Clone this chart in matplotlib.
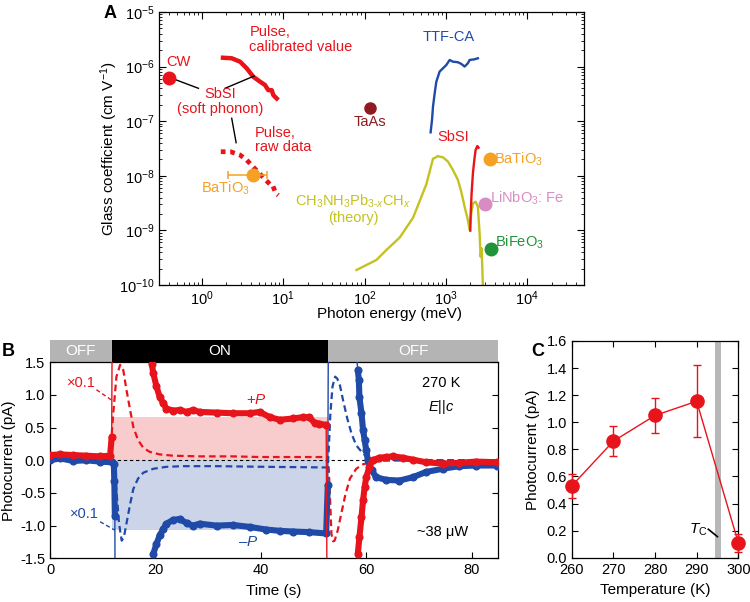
import numpy as np
import matplotlib
matplotlib.use('Agg')
import matplotlib.pyplot as plt
import matplotlib.transforms as mtransforms
from matplotlib.patches import Rectangle
from matplotlib.ticker import LogLocator, NullFormatter, MultipleLocator, FormatStrFormatter

plt.rcParams['font.family'] = ['Liberation Sans', 'DejaVu Sans']
plt.rcParams['mathtext.fontset'] = 'custom'
plt.rcParams['mathtext.rm'] = 'Liberation Sans'
plt.rcParams['mathtext.it'] = 'Liberation Sans:italic'
plt.rcParams['mathtext.bf'] = 'Liberation Sans:bold'
plt.rcParams['font.size'] = 10.5
plt.rcParams['axes.linewidth'] = 0.9

RED = '#e8141c'
BLUE = '#1f4aa8'
YEL = '#c4c21e'
ORANGE = '#f5a124'
DARKRED = '#8e1b1f'
PINK = '#d88cc4'
GREEN = '#1f9438'

# ---------------- panel A data (photon energy meV, Glass coefficient cm/V)
cw_e, cw_g = 0.4, 6.2e-7
cal_e = [1.71, 2.33, 2.95, 3.56, 4.30, 5.19, 5.98, 6.56, 7.23, 7.57, 8.71]
cal_g = [1.46e-6, 1.42e-6, 1.23e-6, 9.3e-7, 6.5e-7, 5.3e-7, 4.6e-7, 3.7e-7, 3.7e-7, 3.0e-7, 2.44e-7]
raw_e = [1.71, 2.25, 2.95, 3.56, 4.06, 4.64, 5.6, 6.4, 7.0, 7.4, 8.1, 8.7]
raw_g = [2.76e-8, 2.76e-8, 2.4e-8, 1.95e-8, 1.58e-8, 1.28e-8, 9.6e-9, 7.8e-9, 6.8e-9, 6.8e-9, 4.8e-9, 4.4e-9]
bto_lo_e, bto_lo_g, bto_lo_err = 4.2, 1.03e-8, (2.1, 2.1)
taas_e, taas_g = 118, 1.72e-7
ttf_e = [650, 676, 695, 729, 764, 839, 922, 1014, 1114, 1222, 1409, 1549, 1702, 1866, 1959, 2255, 2477]
ttf_g = [6.25e-8, 1.05e-7, 1.84e-7, 3.24e-7, 5.3e-7, 8.1e-7, 9.3e-7, 1.07e-6, 1.32e-6, 1.23e-6,
         1.20e-6, 1.12e-6, 1.0e-6, 1.15e-6, 1.32e-6, 1.36e-6, 1.42e-6]
sbsi_e = [1999, 2015, 2074, 2152, 2240, 2322, 2437, 2525]
sbsi_g = [9.9e-10, 1.78e-9, 4.8e-9, 1.11e-8, 1.95e-8, 2.97e-8, 3.5e-8, 3.27e-8]
mapb_e = [79.7, 140, 186, 271, 395, 576, 695, 764, 800, 839, 922, 1062, 1222, 1409, 1549, 1702,
          1866, 1959, 2055, 2152, 2322, 2477, 2600, 2674, 2750, 2805, 2852]
mapb_g = [1.88e-10, 2.87e-10, 4.38e-10, 7.4e-10, 1.7e-9, 7.0e-9, 2.05e-8, 2.2e-8, 2.3e-8, 2.24e-8,
          2.18e-8, 1.82e-8, 1.28e-8, 8.4e-9, 5.1e-9, 2.7e-9, 1.55e-9, 1.02e-9, 2.06e-9, 3.1e-9,
          3.36e-9, 2.7e-9, 8.9e-10, 3.3e-10, 4.7e-10, 2.16e-10, 1e-10]
bto_hi_e, bto_hi_g = 3445, 2.03e-8
lnb_e, lnb_g = 3052, 3.0e-9
bfo_e, bfo_g = 3614, 4.5e-10

# ---------------- panel B data (time s, photocurrent pA)
on_start, on_end = 11.7, 52.8
plus_level, minus_level = 0.67, -1.07
red_t = [0, 1.9, 4.4, 6.9, 9.5, 11.4, 11.7, 12.0, 19.3, 19.6, 20.2, 20.8, 21.5, 22.1, 23.4, 24.6,
         25.9, 27.1, 28.4, 31.6, 34.7, 37.9, 39.8, 41.7, 43.6, 46.1, 48.0, 49.2, 50.2, 51.1, 52.4,
         52.8, 58.4, 58.7, 59.1, 59.4, 59.7, 60.0, 60.6, 61.2, 62.5, 63.8, 65.0, 66.9, 68.8, 71.3,
         74.5, 77.6, 80.8, 84.9]
red_v = [0.08, 0.09, 0.08, 0.07, 0.06, 0.07, 0.36, 6.0, 1.48, 1.33, 1.13, 0.97, 0.87, 0.79, 0.76, 0.77,
         0.74, 0.77, 0.74, 0.73, 0.72, 0.72, 0.74, 0.66, 0.62, 0.64, 0.66, 0.66, 0.57, 0.56, 0.54,
         -6.0, -1.43, -1.18, -0.87, -0.61, -0.41, -0.26, -0.10, 0.0, 0.04, 0.05, 0.06, 0.04, 0.01, -0.03,
         -0.05, -0.04, -0.02, -0.03]
blue_t = [0, 1.9, 4.4, 6.9, 9.5, 11.7, 12.1, 12.2, 12.3, 12.5, 19.6, 20.2, 20.8, 21.5, 22.1, 23.4,
          24.6, 25.9, 27.1, 28.4, 31.6, 34.7, 37.9, 41.0, 43.6, 46.1, 49.2, 52.4, 52.7, 53.0, 58.4,
          58.6, 58.7, 59.1, 59.4, 59.7, 60.0, 60.3, 61.0, 61.9, 63.8, 66.3, 68.8, 71.3, 74.5, 77.6,
          80.8, 84.9]
blue_v = [0.0, 0.03, -0.01, 0.0, -0.02, -0.03, -0.05, -0.31, -0.85, -6.0, -1.43, -1.28, -1.15, -1.05,
          -0.97, -0.91, -0.90, -0.96, -1.0, -0.97, -1.0, -0.99, -1.02, -1.06, -1.08, -1.09, -1.10,
          -1.12, -0.38, 6.0, 1.38, 1.23, 0.97, 0.72, 0.46, 0.31, 0.15, 0.0, -0.15, -0.26, -0.30,
          -0.31, -0.26, -0.18, -0.13, -0.09, -0.08, -0.08]
red_x01_t = [11.4, 12.0, 12.6, 13.3, 13.9, 14.5, 15.2, 15.8, 16.7, 17.7, 18.9, 20.8, 23.4, 28.4, 34.7,
             39.8, 52.7, 52.9, 53.2, 53.4, 53.7, 54.0, 54.6, 55.2, 56.0, 56.9, 58.1, 59.4, 61.2,
             63.8, 84.9]
red_x01_v = [0.08, 0.72, 1.28, 1.46, 1.38, 1.08, 0.77, 0.51, 0.31, 0.19, 0.13, 0.09, 0.07, 0.06, 0.06,
             0.05, 0.05, -0.15, -0.72, -1.13, -1.24, -1.23, -1.07, -0.84, -0.54, -0.28, -0.13, -0.06,
             -0.03, 0.0, 0.0]
blue_x01_t = [12.0, 12.6, 13.1, 13.6, 14.0, 14.5, 15.2, 15.8, 16.7, 17.7, 19.6, 22.1, 25.3, 31.6, 41.0,
              52.7, 52.9, 53.2, 53.6, 54.1, 54.5, 55.0, 55.6, 56.4, 57.2, 58.1, 59.4, 60.6, 62.5, 84.9]
blue_x01_v = [-0.03, -0.46, -0.97, -1.23, -1.18, -0.97, -0.67, -0.44, -0.28, -0.19, -0.13, -0.10, -0.09,
              -0.09, -0.10, -0.11, 0.20, 0.72, 1.13, 1.28, 1.25, 1.15, 0.92, 0.64, 0.41, 0.23, 0.10,
              0.03, 0.0, 0.0]

# ---------------- panel C data
temp = [260, 270, 280, 290, 300]
pc = [0.53, 0.86, 1.05, 1.155, 0.11]
pc_lo = [0.44, 0.75, 0.92, 0.89, 0.04]
pc_hi = [0.62, 0.975, 1.18, 1.425, 0.175]
tc_lo, tc_hi = 294.4, 295.8

fig = plt.figure(figsize=(7.5, 6.02), dpi=100)

# ================= A
ax = fig.add_axes([0.2124, 0.5266, 0.5663, 0.4535])
ax.set_xscale('log')
ax.set_yscale('log')
ax.set_xlim(0.3, 5e4)
ax.set_ylim(1e-10, 1e-5)
ax.plot(mapb_e, mapb_g, color=YEL, lw=1.7)
ax.plot(ttf_e, ttf_g, color=BLUE, lw=1.7)
ax.plot(sbsi_e, sbsi_g, color=RED, lw=1.7)
ax.plot(cal_e, cal_g, color=RED, lw=3.2, solid_capstyle='butt')
ax.plot(raw_e, raw_g, color=RED, lw=3.4, ls=(0, (1.0, 1.0)), dash_capstyle='butt')
ax.errorbar(bto_lo_e, bto_lo_g, xerr=[[bto_lo_err[0]], [bto_lo_err[1]]], fmt='o', color=ORANGE,
            ms=9, elinewidth=1.1, capsize=3, capthick=1.1, zorder=5)
ax.plot(cw_e, cw_g, 'o', color=RED, ms=9, zorder=5)
ax.plot(taas_e, taas_g, 'o', color=DARKRED, ms=8, zorder=5)
ax.plot(bto_hi_e, bto_hi_g, 'o', color=ORANGE, ms=9, zorder=5)
ax.plot(lnb_e, lnb_g, 'o', color=PINK, ms=9, zorder=5)
ax.plot(bfo_e, bfo_g, 'o', color=GREEN, ms=9, zorder=5)
# leader lines
ax.plot([0.428, 0.908], [6.1e-7, 4.0e-7], color='k', lw=1)
ax.plot([1.93, 4.38], [4.0e-7, 6.7e-7], color='k', lw=1)
ax.plot([2.33, 2.64], [1.13e-7, 4.04e-8], color='k', lw=1)

ax.text(0.51, 1.21e-6, 'CW', color=RED, ha='center', va='center')
ax.text(3.84, 3.1e-6, 'Pulse,\ncalibrated value', color=RED, ha='left', va='center', linespacing=1.05)
ax.text(1.68, 2.31e-7, 'SbSI\n(soft phonon)', color=RED, ha='center', va='center', linespacing=1.05)
ax.text(4.51, 4.53e-8, 'Pulse,\nraw data', color=RED, ha='left', va='center', linespacing=1.05)
ax.text(1.93, 6.0e-9, r'BaTiO$_3$', color=ORANGE, ha='center', va='center')
ax.text(118, 9.8e-8, 'TaAs', color=DARKRED, ha='center', va='center')
ax.text(72.5, 2.47e-9, 'CH$_3$NH$_3$Pb$_{3\u2010x}$CH$_x$\n(theory)', color=YEL, ha='center',
        va='center', linespacing=1.05)
ax.text(1092, 3.53e-6, 'TTF-CA', color=BLUE, ha='center', va='center')
ax.text(1222, 5.2e-8, 'SbSI', color=RED, ha='center', va='center')
ax.text(3950, 2.03e-8, r'BaTiO$_3$', color=ORANGE, ha='left', va='center')
ax.text(3450, 3.9e-9, r'LiNbO$_3$: Fe', color=PINK, ha='left', va='center')
ax.text(4050, 6.1e-10, r'BiFeO$_3$', color=GREEN, ha='left', va='center')

ax.xaxis.set_major_locator(LogLocator(base=10, numticks=10))
ax.xaxis.set_minor_locator(LogLocator(base=10, subs=np.arange(2, 10), numticks=20))
ax.xaxis.set_minor_formatter(NullFormatter())
ax.yaxis.set_major_locator(LogLocator(base=10, numticks=10))
ax.yaxis.set_minor_locator(LogLocator(base=10, subs=np.arange(2, 10), numticks=20))
ax.yaxis.set_minor_formatter(NullFormatter())
ax.tick_params(which='both', direction='in', top=True, right=True)
ax.tick_params(which='major', length=5)
ax.tick_params(which='minor', length=2.5)
ax.set_xlabel('Photon energy (meV)', fontsize=11)
ax.set_ylabel('Glass coefficient (cm V$^{-1}$)', fontsize=11)
ax.xaxis.set_label_coords(0.543, -0.082)
ax.yaxis.set_label_coords(-0.093, 0.5)
fig.text(110 / 750, 1 - 13 / 602, 'A', fontsize=13, fontweight='bold', ha='center', va='center')

# ================= B
bx = fig.add_axes([0.0667, 0.0726, 0.5973, 0.3256])
bx.set_xlim(0, 85)
bx.set_ylim(-1.5, 1.5)
bx.fill_between([on_start, on_end], 0, plus_level, color='#f8cccd', lw=0, zorder=0)
bx.fill_between([on_start, on_end], minus_level, 0, color='#ccd4e9', lw=0, zorder=0)
bx.axhline(0, color='k', lw=0.8, ls=(0, (3, 2.5)), zorder=1)
bx.plot(red_x01_t, red_x01_v, color=RED, lw=1.6, ls=(0, (3, 1.8)), zorder=2)
bx.plot(blue_x01_t, blue_x01_v, color=BLUE, lw=1.6, ls=(0, (3, 1.8)), zorder=2)
for t, v, c, z in [(red_t, red_v, RED, 4), (blue_t, blue_v, BLUE, 3)]:
    t = np.array(t)
    v = np.array(v)
    bx.plot(t, v, color=c, lw=1, zorder=z)
    vin = np.where(np.abs(v) <= 1.5, v, np.nan)
    bx.plot(t, vin, color=c, lw=4.4, solid_capstyle='round', zorder=z)
    bx.plot(t, vin, 'o', color=c, ms=4.8, zorder=z)

# ON/OFF bar above the axes
trans = mtransforms.blended_transform_factory(bx.transData, bx.transAxes)
bar_h = 0.115
for x0, x1, col, lab in [(0, on_start, '#b4b4b4', 'OFF'), (on_start, on_end, 'black', 'ON'),
                         (on_end, 85, '#b4b4b4', 'OFF')]:
    bx.add_patch(Rectangle((x0, 1.0), x1 - x0, bar_h, transform=trans, color=col, clip_on=False, lw=0))
    bx.text((x0 + x1) / 2, 1.0 + bar_h / 2, lab, transform=trans, color='white', ha='center',
            va='center', fontsize=11)

bx.plot([8.8, 11.7], [1.08, 0.92], color=RED, lw=1, ls=(0, (3, 2)))
bx.plot([9.5, 12.3], [-0.94, -1.07], color=BLUE, lw=1, ls=(0, (3, 2)))
bx.text(6.0, 1.19, '\u00d70.1', color=RED, ha='center', va='center')
bx.text(6.6, -0.82, '\u00d70.1', color=BLUE, ha='center', va='center')
bx.text(39.1, 0.93, '+$P$', color=RED, ha='center', va='center', fontsize=11)
bx.text(37.6, -1.25, '\u2013$P$', color=BLUE, ha='center', va='center', fontsize=11)
bx.text(74.2, 1.18, '270 K', ha='center', va='center')
bx.text(74.2, 0.82, '$E$||$c$', ha='center', va='center')
bx.text(74.5, -1.09, '~38 \u03bcW', ha='center', va='center')

bx.xaxis.set_major_locator(MultipleLocator(20))
bx.yaxis.set_major_locator(MultipleLocator(0.5))
bx.yaxis.set_major_formatter(FormatStrFormatter('%.1f'))
bx.tick_params(direction='in', right=True, length=4)
bx.set_xlabel('Time (s)', fontsize=11)
bx.set_ylabel('Photocurrent (pA)', fontsize=11)
bx.xaxis.set_label_coords(0.5, -0.13)
bx.yaxis.set_label_coords(-0.076, 0.5)
fig.text(8 / 750, 1 - 351 / 602, 'B', fontsize=13, fontweight='bold', ha='center', va='center')

# ================= C
cx = fig.add_axes([0.7623, 0.0736, 0.2221, 0.36])
cx.set_xlim(260, 300)
cx.set_ylim(0, 1.6)
cx.axvspan(tc_lo, tc_hi, color='#b8b8b8', lw=0, zorder=0)
pc_a = np.array(pc)
yerr = [pc_a - np.array(pc_lo), np.array(pc_hi) - pc_a]
cx.errorbar(temp, pc, yerr=yerr, fmt='-o', color=RED, lw=1, ms=9.5, elinewidth=1, capsize=3,
            capthick=1, clip_on=False, zorder=3)
cx.plot([292.8, 295.0], [0.21, 0.155], color='k', lw=1.2)
cx.text(292.6, 0.205, r'$T_\mathrm{C}$', ha='right', va='center', fontsize=11)
cx.xaxis.set_major_locator(MultipleLocator(10))
cx.yaxis.set_major_locator(MultipleLocator(0.2))
cx.yaxis.set_major_formatter(FormatStrFormatter('%.1f'))
cx.tick_params(direction='in', top=True, right=True, length=4)
cx.set_xlabel('Temperature (K)', fontsize=11)
cx.set_ylabel('Photocurrent (pA)', fontsize=11)
cx.xaxis.set_label_coords(0.5, -0.117)
cx.yaxis.set_label_coords(-0.19, 0.5)
fig.text(538 / 750, 1 - 351 / 602, 'C', fontsize=13, fontweight='bold', ha='center', va='center')

fig.savefig('out.png', dpi=100)
